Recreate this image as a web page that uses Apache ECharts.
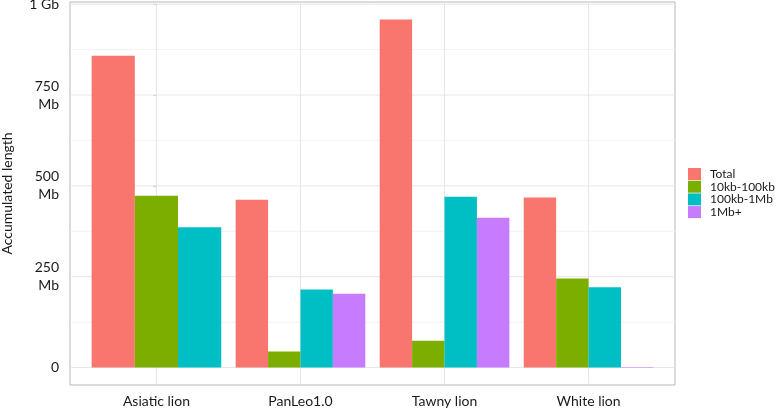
<!DOCTYPE html>
<html>
<head>
<meta charset="utf-8">
<script src="https://cdn.jsdelivr.net/npm/echarts@6/dist/echarts.min.js"></script>
<style>html,body{margin:0;padding:0;background:#fff;}#chart{width:778px;height:408px;}</style>
</head>
<body>
<div id="chart"></div>
<script>
const categories = ['Asiatic lion', 'PanLeo1.0', 'Tawny lion', 'White lion'];
const groupNames = ['Total', '10kb-100kb', '100kb-1Mb', '1Mb+'];
// values in Mb (null = group absent)
const totalValues = [858, 462, 958, 468];
const kb10to100Values = [473, 44, 74, 245];
const kb100to1MbValues = [386, 215, 470, 221];
const mb1plusValues = [null, 203, 412, 1.5];
const yTickValues = [0, 250, 500, 750, 1000];
const yMinorValues = [125, 375, 625, 875];
const yTitle = 'Accumulated length';

const colors = ['#F8766D', '#7CAE00', '#00BFC4', '#C77CFF'];
const groups = [totalValues, kb10to100Values, kb100to1MbValues, mb1plusValues];
const FONT = 'Lato';

const dataMax = Math.max(...groups.flat().filter(v => v != null));
const yMin = -0.05 * dataMax, yMax = 1.05 * dataMax;
const xMin = -0.6, xMax = categories.length - 1 + 0.6;

function yLabel(v) {
  if (v === 0) return '0';
  if (v >= 1000) return (v / 1000) + ' Gb';
  return v + '\nMb';
}

// number of present groups per category, and rank of each group
const nPresent = categories.map((c, i) => groups.filter(g => g[i] != null).length);
function rankOf(gi, ci) {
  let k = 0;
  for (let j = 0; j < gi; j++) if (groups[j][ci] != null) k++;
  return k;
}

const barSeries = groups.map((g, gi) => ({
  name: groupNames[gi],
  type: 'custom',
  itemStyle: { color: colors[gi] },
  encode: { x: 0, y: 1 },
  z: 3,
  data: g.map((v, ci) => v == null ? null : [ci, v, rankOf(gi, ci), nPresent[ci]]).filter(d => d),
  renderItem: function (params, api) {
    const x = api.value(0), v = api.value(1), k = api.value(2), n = api.value(3);
    const w = 0.9 / n;
    const p1 = api.coord([x - 0.45 + k * w, v]);
    const p2 = api.coord([x - 0.45 + (k + 1) * w, 0]);
    return {
      type: 'rect',
      shape: { x: p1[0], y: p1[1], width: p2[0] - p1[0], height: p2[1] - p1[1] },
      style: { fill: colors[gi] }
    };
  }
}));

// gridlines drawn through the axes' scales
const gridLines = [];
yTickValues.forEach(v => gridLines.push(['h', v, 1]));
yMinorValues.forEach(v => gridLines.push(['h', v, 0]));
categories.forEach((c, i) => gridLines.push(['v', i, 1]));

const gridSeries = {
  type: 'custom',
  silent: true,
  z: 1,
  data: gridLines.map((g, i) => [i]),
  encode: { x: [], y: [] },
  renderItem: function (params, api) {
    const g = gridLines[params.dataIndex];
    let a, b;
    if (g[0] === 'h') { a = api.coord([xMin, g[1]]); b = api.coord([xMax, g[1]]); }
    else { a = api.coord([g[1], yMin]); b = api.coord([g[1], yMax]); }
    return {
      type: 'line',
      shape: { x1: a[0], y1: a[1], x2: b[0], y2: b[1] },
      style: { stroke: g[2] ? '#E6E6E6' : '#F3F3F3', lineWidth: 1 }
    };
  }
};

const chart = echarts.init(document.getElementById('chart'), null, { renderer: 'canvas' });
chart.setOption({
  animation: false,
  textStyle: { fontFamily: FONT },
  grid: { left: 70, right: 103, top: 2, bottom: 23, containLabel: false, outerBoundsMode: 'none', show: true, borderColor: '#B8B8B8', borderWidth: 1, backgroundColor: 'transparent' },
  legend: {
    data: groupNames,
    orient: 'vertical',
    left: 688, top: 168, padding: 0,
    itemWidth: 13, itemHeight: 12, itemGap: 0.7,
    icon: 'rect',
    textStyle: { fontSize: 12, color: '#1a1a1a', padding: [0, 0, 0, 4], fontFamily: FONT }
  },
  xAxis: {
    type: 'value', min: xMin, max: xMax,
    axisLine: { show: false },
    splitLine: { show: false },
    axisTick: { show: true, customValues: categories.map((c, i) => i), length: 3, lineStyle: { color: '#B8B8B8' } },
    axisLabel: { customValues: categories.map((c, i) => i), formatter: v => categories[Math.round(v)], fontSize: 14, color: '#1a1a1a', margin: 9, fontFamily: FONT }
  },
  yAxis: {
    type: 'value', min: yMin, max: yMax,
    name: yTitle, nameLocation: 'middle', nameGap: 56, nameRotate: 90,
    nameTextStyle: { fontSize: 14, color: '#1a1a1a', fontFamily: FONT },
    axisLine: { show: false },
    splitLine: { show: false },
    axisTick: { show: true, customValues: yTickValues, length: 3, lineStyle: { color: '#B8B8B8' } },
    axisLabel: { customValues: yTickValues, formatter: yLabel, fontSize: 14, lineHeight: 18, color: '#1a1a1a', margin: 11, align: 'right', fontFamily: FONT }
  },
  series: [gridSeries].concat(barSeries)
});
</script>
</body>
</html>
